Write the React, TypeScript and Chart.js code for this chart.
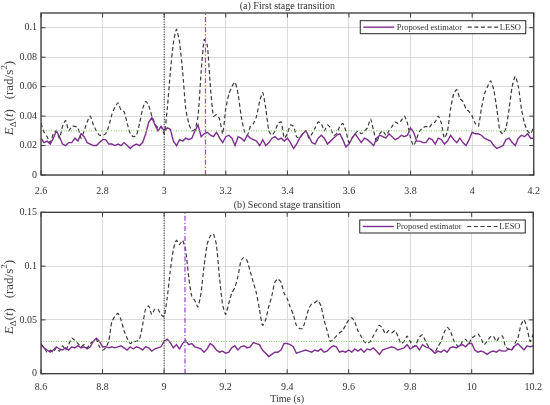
import React, { useEffect, useRef } from "react";
import { Chart, registerables } from "chart.js";

Chart.register(...registerables);

// ---------- data ----------
const TIME_STEP = 0.01;
const TIME_START_A = 2.6;
const TIME_START_B = 8.6;

const PROPOSED_A = [
  0.025, 0.022, 0.023, 0.021, 0.025, 0.030, 0.026, 0.021, 0.020, 0.022,
  0.022, 0.025, 0.023, 0.028, 0.026, 0.022, 0.021, 0.020, 0.020, 0.022,
  0.024, 0.024, 0.021, 0.021, 0.020, 0.021, 0.020, 0.022, 0.020, 0.018,
  0.020, 0.021, 0.020, 0.022, 0.028, 0.036, 0.039, 0.034, 0.030, 0.033,
  0.030, 0.032, 0.031, 0.023, 0.020, 0.024, 0.023, 0.025, 0.024, 0.025,
  0.030, 0.034, 0.026, 0.028, 0.029, 0.027, 0.026, 0.029, 0.025, 0.022,
  0.026, 0.027, 0.025, 0.020, 0.026, 0.025, 0.023, 0.027, 0.025, 0.024,
  0.023, 0.020, 0.024, 0.020, 0.022, 0.025, 0.026, 0.024, 0.025, 0.023,
  0.025, 0.022, 0.018, 0.021, 0.025, 0.028, 0.030, 0.026, 0.022, 0.021,
  0.025, 0.027, 0.025, 0.021, 0.023, 0.025, 0.027, 0.028, 0.024, 0.019,
  0.021, 0.025, 0.028, 0.025, 0.022, 0.025, 0.024, 0.022, 0.020, 0.025,
  0.027, 0.026, 0.025, 0.028, 0.026, 0.024, 0.025, 0.027, 0.026, 0.027,
  0.032, 0.029, 0.023, 0.023, 0.022, 0.022, 0.025, 0.024, 0.021, 0.025,
  0.024, 0.021, 0.023, 0.027, 0.024, 0.022, 0.025, 0.022, 0.020, 0.024,
  0.029, 0.028, 0.028, 0.027, 0.025, 0.024, 0.023, 0.020, 0.018, 0.019,
  0.020, 0.024, 0.025, 0.022, 0.020, 0.025, 0.027, 0.026, 0.028, 0.025,
  0.025,
];

const LESO_A = [
  0.035, 0.029, 0.026, 0.022, 0.028, 0.030, 0.025, 0.033, 0.037, 0.030,
  0.033, 0.033, 0.032, 0.025, 0.030, 0.036, 0.040, 0.034, 0.030, 0.027,
  0.027, 0.028, 0.033, 0.041, 0.046, 0.049, 0.044, 0.043, 0.035, 0.028,
  0.026, 0.027, 0.035, 0.045, 0.050, 0.047, 0.040, 0.035, 0.032, 0.033,
  0.028, 0.045, 0.070, 0.090, 0.099, 0.090, 0.070, 0.045, 0.035, 0.030,
  0.031, 0.040, 0.070, 0.092, 0.088, 0.060, 0.040, 0.041, 0.038, 0.028,
  0.045, 0.055, 0.060, 0.063, 0.055, 0.040, 0.030, 0.027, 0.033, 0.035,
  0.040, 0.050, 0.056, 0.045, 0.030, 0.027, 0.030, 0.035, 0.036, 0.025,
  0.028, 0.034, 0.033, 0.026, 0.025, 0.028, 0.030, 0.025, 0.028, 0.032,
  0.036, 0.035, 0.030, 0.034, 0.032, 0.027, 0.028, 0.033, 0.035, 0.030,
  0.022, 0.025, 0.028, 0.030, 0.028, 0.030, 0.032, 0.038, 0.030, 0.022,
  0.028, 0.030, 0.027, 0.030, 0.033, 0.036, 0.035, 0.037, 0.040, 0.035,
  0.025, 0.020, 0.025, 0.030, 0.032, 0.033, 0.032, 0.035, 0.036, 0.040,
  0.035, 0.025, 0.030, 0.045, 0.055, 0.058, 0.052, 0.050, 0.045, 0.043,
  0.040, 0.035, 0.033, 0.045, 0.055, 0.060, 0.064, 0.058, 0.045, 0.030,
  0.028, 0.032, 0.045, 0.060, 0.067, 0.060, 0.045, 0.035, 0.030, 0.028,
  0.033,
];

const PROPOSED_B = [
  0.027, 0.024, 0.022, 0.020, 0.022, 0.025, 0.023, 0.022, 0.024, 0.022,
  0.025, 0.024, 0.026, 0.024, 0.025, 0.023, 0.025, 0.030, 0.033, 0.030,
  0.025, 0.025, 0.024, 0.025, 0.024, 0.025, 0.026, 0.024, 0.022, 0.025,
  0.023, 0.025, 0.024, 0.022, 0.025, 0.024, 0.021, 0.023, 0.024, 0.025,
  0.030, 0.032, 0.029, 0.024, 0.027, 0.023, 0.028, 0.031, 0.027, 0.028,
  0.025, 0.024, 0.023, 0.020, 0.023, 0.028, 0.026, 0.022, 0.020, 0.021,
  0.019, 0.020, 0.024, 0.026, 0.022, 0.025, 0.026, 0.024, 0.025, 0.029,
  0.028, 0.027, 0.022, 0.019, 0.016, 0.018, 0.020, 0.020, 0.022, 0.028,
  0.028, 0.027, 0.025, 0.019, 0.020, 0.021, 0.022, 0.021, 0.020, 0.022,
  0.021, 0.023, 0.020, 0.021, 0.024, 0.026, 0.025, 0.020, 0.021, 0.020,
  0.022, 0.020, 0.023, 0.021, 0.023, 0.020, 0.023, 0.022, 0.024, 0.021,
  0.018, 0.022, 0.023, 0.024, 0.025, 0.024, 0.022, 0.023, 0.024, 0.027,
  0.023, 0.025, 0.026, 0.022, 0.027, 0.025, 0.024, 0.022, 0.019, 0.021,
  0.020, 0.022, 0.020, 0.024, 0.025, 0.024, 0.026, 0.027, 0.025, 0.028,
  0.028, 0.022, 0.020, 0.021, 0.020, 0.018, 0.020, 0.021, 0.020, 0.022,
  0.021, 0.021, 0.023, 0.022, 0.026, 0.028, 0.025, 0.022, 0.026, 0.025,
  0.026,
];

const LESO_B = [
  0.028, 0.024, 0.020, 0.022, 0.020, 0.024, 0.021, 0.026, 0.022, 0.027,
  0.033, 0.031, 0.028, 0.025, 0.027, 0.024, 0.028, 0.030, 0.032, 0.025,
  0.022, 0.024, 0.030, 0.048, 0.053, 0.056, 0.050, 0.040, 0.033, 0.028,
  0.030, 0.030, 0.032, 0.045, 0.060, 0.063, 0.055, 0.060, 0.060, 0.055,
  0.053, 0.070, 0.095, 0.115, 0.124, 0.120, 0.124, 0.115, 0.090, 0.072,
  0.068, 0.062, 0.075, 0.100, 0.120, 0.128, 0.130, 0.120, 0.090, 0.065,
  0.055, 0.065, 0.075, 0.080, 0.090, 0.105, 0.108, 0.105, 0.095, 0.085,
  0.075, 0.060, 0.045, 0.050, 0.062, 0.072, 0.085, 0.088, 0.085, 0.075,
  0.070, 0.062, 0.055, 0.045, 0.042, 0.042, 0.050, 0.060, 0.065, 0.066,
  0.068, 0.063, 0.050, 0.040, 0.030, 0.032, 0.035, 0.038, 0.040, 0.045,
  0.050, 0.052, 0.048, 0.040, 0.035, 0.030, 0.028, 0.030, 0.035, 0.040,
  0.045, 0.042, 0.037, 0.040, 0.038, 0.040, 0.035, 0.028, 0.030, 0.035,
  0.030, 0.025, 0.028, 0.034, 0.036, 0.030, 0.025, 0.022, 0.020, 0.025,
  0.030, 0.038, 0.043, 0.040, 0.032, 0.027, 0.025, 0.030, 0.032, 0.028,
  0.033, 0.035, 0.037, 0.033, 0.027, 0.030, 0.034, 0.035, 0.030, 0.034,
  0.035, 0.025, 0.023, 0.022, 0.028, 0.033, 0.045, 0.050, 0.042, 0.030,
  0.037,
];

const X_TICKS_A = [2.6, 2.8, 3, 3.2, 3.4, 3.6, 3.8, 4, 4.2];
const X_TICKS_B = [8.6, 8.8, 9, 9.2, 9.4, 9.6, 9.8, 10, 10.2];
const Y_TICKS_A = [0, 0.02, 0.04, 0.06, 0.08, 0.1];
const Y_TICKS_B = [0, 0.05, 0.1, 0.15];

const THRESHOLD = 0.03;
const TRANSITION_A = 3.0;
const SWITCH_A = 3.134;
const TRANSITION_B = 9.0;
const SWITCH_B = 9.068;

const TITLE_A = "(a) First stage transition";
const TITLE_B = "(b) Second stage transition";
const LEGEND_PROPOSED = "Proposed estimator";
const LEGEND_LESO = "LESO";
const X_LABEL = "Time (s)";

// ---------- styles ----------
const SERIF = '"Liberation Serif", "Times New Roman", serif';
const TEXT = "#333333";
const AXIS = "#3a3a3a";
const GRID = "#d2d2d2";
const PURPLE = "#7E2F8E";
const SWITCH_COLOR = "#a14fd0";
const LESO_COLOR = "#3a3a3a";

type Panel = {
  start: number;
  proposed: number[];
  leso: number[];
  xMin: number;
  xMax: number;
  yMax: number;
  xTicks: number[];
  yTicks: number[];
  transition: number;
  switchT: number;
  title: string;
  xLabel: string | null;
  padTop: number;
  xAxisH: number;
  xTickPad: number;
};

const PANEL_A: Panel = {
  start: TIME_START_A,
  proposed: PROPOSED_A,
  leso: LESO_A,
  xMin: 2.6,
  xMax: 4.2,
  yMax: 0.11,
  xTicks: X_TICKS_A,
  yTicks: Y_TICKS_A,
  transition: TRANSITION_A,
  switchT: SWITCH_A,
  title: TITLE_A,
  xLabel: null,
  padTop: 13,
  xAxisH: 25,
  xTickPad: 10,
};

const PANEL_B: Panel = {
  start: TIME_START_B,
  proposed: PROPOSED_B,
  leso: LESO_B,
  xMin: 8.6,
  xMax: 10.2,
  yMax: 0.15,
  xTicks: X_TICKS_B,
  yTicks: Y_TICKS_B,
  transition: TRANSITION_B,
  switchT: SWITCH_B,
  title: TITLE_B,
  xLabel: X_LABEL,
  padTop: 12.3,
  xAxisH: 31.3,
  xTickPad: 8,
};

const fmt = (v: number) => String(Number(Number(v).toFixed(3)));

function framePlugin(p: Panel) {
  return {
    id: "frame",
    afterDraw(chart: any) {
      const { ctx, chartArea: a, scales } = chart;
      const line = (x1: number, y1: number, x2: number, y2: number) => {
        ctx.beginPath();
        ctx.moveTo(x1, y1);
        ctx.lineTo(x2, y2);
        ctx.stroke();
      };
      ctx.save();
      // inward ticks
      const TL = 4.5;
      ctx.strokeStyle = AXIS;
      ctx.lineWidth = 1;
      ctx.setLineDash([]);
      scales.x.ticks.forEach((t: any) => {
        const x = scales.x.getPixelForValue(t.value);
        line(x, a.bottom, x, a.bottom - TL);
        line(x, a.top, x, a.top + TL);
      });
      scales.y.ticks.forEach((t: any) => {
        const y = scales.y.getPixelForValue(t.value);
        line(a.left, y, a.left + TL, y);
        line(a.right, y, a.right - TL, y);
      });
      // box
      ctx.lineWidth = 1.3;
      ctx.strokeRect(a.left, a.top, a.right - a.left, a.bottom - a.top);

      // title
      ctx.fillStyle = TEXT;
      ctx.font = `10px ${SERIF}`;
      ctx.textAlign = "center";
      ctx.textBaseline = "middle";
      ctx.fillText(p.title, (a.left + a.right) / 2, a.top - 6.5);

      // legend
      const lx = a.right - 173.5;
      const ly = a.top + 7.7;
      const lw = 165.5;
      const lh = 13;
      ctx.fillStyle = "#ffffff";
      ctx.fillRect(lx, ly, lw, lh);
      ctx.strokeStyle = "#262626";
      ctx.lineWidth = 1;
      ctx.strokeRect(lx, ly, lw, lh);
      const cy = ly + lh / 2;
      ctx.strokeStyle = PURPLE;
      ctx.lineWidth = 1.4;
      line(lx + 3, cy, lx + 34, cy);
      ctx.strokeStyle = LESO_COLOR;
      ctx.lineWidth = 1.2;
      ctx.setLineDash([4, 2.6]);
      line(lx + 107.5, cy, lx + 138, cy);
      ctx.setLineDash([]);
      ctx.fillStyle = TEXT;
      ctx.font = `8.5px ${SERIF}`;
      ctx.textAlign = "left";
      ctx.fillText(LEGEND_PROPOSED, lx + 36.5, cy + 0.5);
      ctx.fillText(LEGEND_LESO, lx + 139.5, cy + 0.5);

      // y label  E_Δ(t) (rad/s^2)
      const s = 13;
      const segs = [
        { t: "E", f: `italic ${s}px ${SERIF}`, dy: 0 },
        { t: "Δ", f: `${s * 0.7}px ${SERIF}`, dy: s * 0.28 },
        { t: "(", f: `${s}px ${SERIF}`, dy: 0 },
        { t: "t", f: `italic ${s}px ${SERIF}`, dy: 0 },
        { t: ")", f: `${s}px ${SERIF}`, dy: 0 },
        { t: "   (rad/s", f: `${s}px ${SERIF}`, dy: 0 },
        { t: "2", f: `${s * 0.7}px ${SERIF}`, dy: -s * 0.38 },
        { t: ")", f: `${s}px ${SERIF}`, dy: 0 },
      ];
      let total = 0;
      const widths = segs.map((g) => {
        ctx.font = g.f;
        const w = ctx.measureText(g.t).width;
        total += w;
        return w;
      });
      ctx.translate(9.5, (a.top + a.bottom) / 2 + 4);
      ctx.rotate(-Math.PI / 2);
      ctx.fillStyle = "#444444";
      ctx.textAlign = "left";
      ctx.textBaseline = "middle";
      let cx = -total / 2;
      segs.forEach((g, i) => {
        ctx.font = g.f;
        ctx.fillText(g.t, cx, g.dy);
        cx += widths[i];
      });
      ctx.setTransform(1, 0, 0, 1, 0, 0);
      ctx.restore();

      if (p.xLabel) {
        ctx.save();
        ctx.fillStyle = TEXT;
        ctx.font = `10px ${SERIF}`;
        ctx.textAlign = "center";
        ctx.textBaseline = "middle";
        ctx.fillText(p.xLabel, (a.left + a.right) / 2, a.bottom + 25.5);
        ctx.restore();
      }
    },
  };
}

function makeChart(canvas: HTMLCanvasElement, p: Panel) {
  const times = p.proposed.map((_, i) => Number((p.start + i * TIME_STEP).toFixed(2)));
  const pts = (vals: number[]) => vals.map((v, i) => ({ x: times[i], y: v }));
  const tickFont = { family: SERIF, size: 10 };
  return new Chart(canvas, {
    type: "line",
    data: {
      datasets: [
        {
          label: "switch",
          data: [
            { x: p.switchT, y: 0 },
            { x: p.switchT, y: p.yMax },
          ],
          borderColor: SWITCH_COLOR,
          borderWidth: 1.3,
          borderDash: [5, 2, 1.2, 2],
          pointRadius: 0,
        },
        {
          label: "transition",
          data: [
            { x: p.transition, y: 0 },
            { x: p.transition, y: p.yMax },
          ],
          borderColor: "#111111",
          borderWidth: 0.9,
          borderDash: [1, 1.5],
          pointRadius: 0,
        },
        {
          label: "threshold",
          data: [
            { x: p.xMin, y: THRESHOLD },
            { x: p.xMax, y: THRESHOLD },
          ],
          borderColor: "#8cc46c",
          borderWidth: 1,
          borderDash: [1, 1.5],
          pointRadius: 0,
        },
        {
          label: LEGEND_PROPOSED,
          data: pts(p.proposed),
          borderColor: PURPLE,
          borderWidth: 1.4,
          pointRadius: 0,
          tension: 0,
        },
        {
          label: LEGEND_LESO,
          data: pts(p.leso),
          borderColor: LESO_COLOR,
          borderWidth: 1.2,
          borderDash: [4, 2.6],
          pointRadius: 0,
          tension: 0.2,
        },
      ],
    },
    options: {
      animation: false,
      responsive: true,
      maintainAspectRatio: false,
      devicePixelRatio: 1,
      layout: { padding: { left: 0, right: 10.5, top: p.padTop, bottom: 0 } },
      plugins: {
        legend: { display: false },
        tooltip: { enabled: false },
        title: { display: false },
      },
      scales: {
        x: {
          type: "linear",
          min: p.xMin,
          max: p.xMax,
          afterBuildTicks: (scale: any) => {
            scale.ticks = p.xTicks.map((v) => ({ value: v }));
          },
          afterFit: (scale: any) => {
            scale.height = p.xAxisH;
          },
          grid: { color: GRID, lineWidth: 0.8, drawTicks: false },
          border: { display: false },
          ticks: {
            padding: p.xTickPad,
            color: TEXT,
            font: tickFont,
            maxRotation: 0,
            autoSkip: false,
            callback: (v: any) => fmt(v),
          },
        },
        y: {
          type: "linear",
          min: 0,
          max: p.yMax,
          afterBuildTicks: (scale: any) => {
            scale.ticks = p.yTicks.map((v) => ({ value: v }));
          },
          afterFit: (scale: any) => {
            scale.width = 41;
          },
          grid: { color: GRID, lineWidth: 0.8, drawTicks: false },
          border: { display: false },
          ticks: {
            padding: 4,
            color: TEXT,
            font: tickFont,
            autoSkip: false,
            callback: (v: any) => fmt(v),
          },
        },
      },
    },
    plugins: [framePlugin(p)],
  } as any);
}

export default function App() {
  const refA = useRef<HTMLCanvasElement>(null);
  const refB = useRef<HTMLCanvasElement>(null);
  useEffect(() => {
    const a = makeChart(refA.current!, PANEL_A);
    const b = makeChart(refB.current!, PANEL_B);
    return () => {
      a.destroy();
      b.destroy();
    };
  }, []);
  return (
    <div style={{ position: "absolute", left: 0, top: 0, width: 550, height: 405, background: "#fff" }}>
      <div style={{ position: "absolute", left: 0, top: 0, width: 550, height: 200 }}>
        <canvas ref={refA} />
      </div>
      <div style={{ position: "absolute", left: 0, top: 200, width: 550, height: 205 }}>
        <canvas ref={refB} />
      </div>
    </div>
  );
}
